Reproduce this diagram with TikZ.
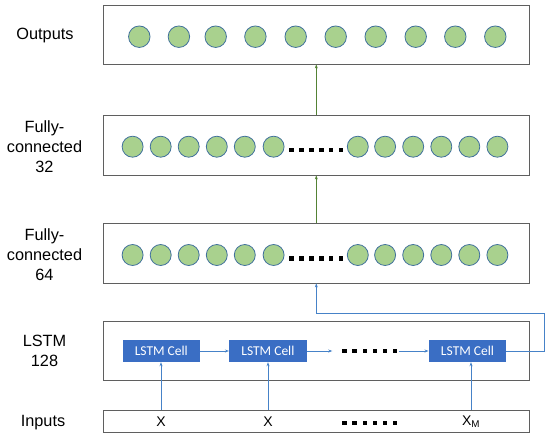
\documentclass[tikz,border=0pt]{standalone}
\usepackage{fontspec}
\setmainfont{Liberation Sans}
\newfontfamily\cellfont{Carlito}
\usetikzlibrary{arrows.meta}
\definecolor{circfill}{RGB}{169,209,142}
\definecolor{circline}{RGB}{65,113,156}
\definecolor{cellblue}{RGB}{58,110,196}
\definecolor{linkblue}{RGB}{70,130,200}
\definecolor{linkgreen}{RGB}{84,130,53}
\definecolor{boxgray}{RGB}{95,95,95}
\begin{document}
\begin{tikzpicture}[x=1pt,y=-1pt,
  layer/.style={draw=boxgray,line width=0.8pt,minimum width=425.5pt,inner sep=0pt},
  neuron/.style={circle,draw=circline,fill=circfill,line width=0.8pt,minimum size=21.5pt,inner sep=0pt},
  lstmcell/.style={fill=cellblue,text=white,font=\cellfont\fontsize{13.5}{15}\selectfont,minimum width=77.5pt,minimum height=22pt,inner sep=0pt},
  lab/.style={font=\fontsize{16.3}{20}\selectfont,align=center},
  xlab/.style={font=\fontsize{14}{16}\selectfont},
  garrow/.style={draw=linkgreen,line width=0.8pt,-{Stealth[length=4pt,width=3pt]}},
  barrow/.style={draw=linkblue,line width=0.8pt,-{Stealth[length=4pt,width=3pt]}},
  dotsrow/.style={minimum width=54pt,minimum height=6pt,inner sep=0pt}
]
\useasboundingbox (0,0) rectangle (550,437);
% layer boxes
\node[layer,minimum height=59pt] (outbox) at (316.3,34.5) {};
\node[layer,minimum height=60pt] (fc32) at (316.3,145) {};
\node[layer,minimum height=60pt] (fc64) at (316.3,253) {};
\node[layer,minimum height=59pt] (lstm) at (316.3,350.5) {};
\node[layer,minimum height=22pt] (inbox) at (316.3,421) {};
% labels
\node[lab] (lout) at (45,35) {Outputs};
\node[lab] (l32) at (44.5,147) {Fully-\\connected\\32};
\node[lab] (l64) at (44.5,255) {Fully-\\connected\\64};
\node[lab] (llstm) at (44.5,351) {LSTM\\128};
\node[lab] (lin) at (43,423) {Inputs};
% output neurons
\foreach \i/\x in {1/139.3,2/178.9,3/215.7,4/255.4,5/295.7,6/335.7,7/375.7,8/415.7,9/455.3,10/495.3}
  \node[neuron] (o\i) at (\x,36.7) {};
% FC neurons
\foreach \L/\y in {a/146.7,b/255}{
  \foreach \i/\x in {1/132.6,2/160.7,3/188.7,4/216.8,5/244.8,6/273.6,7/357.8,8/385.1,9/413.2,10/441.3,11/469.3,12/497.4}
    \node[neuron,minimum size=21pt] (\L\i) at (\x,\y) {};
}
\node[dotsrow] (dotsa) at (316.5,150) {};
\node[dotsrow] (dotsb) at (316.5,258.3) {};
% LSTM cells
\node[lstmcell] (c1) at (161.3,351) {LSTM Cell};
\node[lstmcell] (c2) at (267.9,351) {LSTM Cell};
\node[lstmcell] (c3) at (467.5,351) {LSTM Cell};
\node[dotsrow] (dotsl) at (369.5,351) {};
% inputs
\node[xlab] (x1) at (161,421.5) {X};
\node[xlab] (x2) at (268,421.5) {X};
\node[xlab] (x3) at (471,421.5) {X\textsubscript{M}};
\node[dotsrow] (dotsi) at (369.5,423) {};
% dots
\foreach \n in {dotsa,dotsb}
  \foreach \k in {0,...,5}
    \fill ([xshift={2.25pt+\k*9.9pt}]\n.west) ++(-2.25pt,-2.25pt) rectangle ++(4.5pt,4.5pt);
\foreach \n in {dotsl,dotsi}
  \foreach \k in {0,...,5}
    \fill ([xshift={2.25pt+\k*10.1pt}]\n.west) ++(-2.25pt,-2.25pt) rectangle ++(4.5pt,4.5pt);
% connectors
\draw[garrow] (fc64.north) -- (fc32.south);
\draw[garrow] (fc32.north) -- (outbox.south);
\draw[barrow] (c1.east) -- (c2.west);
\draw[barrow] (c2.east) -- ([xshift=-10pt]dotsl.west);
\draw[barrow] ([xshift=2pt]dotsl.east) -- (c3.west);
\coordinate (r1) at (544.8,351);
\coordinate (r2) at (544.8,313);
\draw[barrow] (c3.east) -- (r1) -- (r2) -- (r2 -| fc64.south) -- (fc64.south);
\draw[barrow] (inbox.north -| x1) -- (x1 |- c1.south);
\draw[barrow] (inbox.north -| x2) -- (x2 |- c2.south);
\draw[barrow] (inbox.north -| x3) -- (x3 |- c3.south);
\end{tikzpicture}
\end{document}
